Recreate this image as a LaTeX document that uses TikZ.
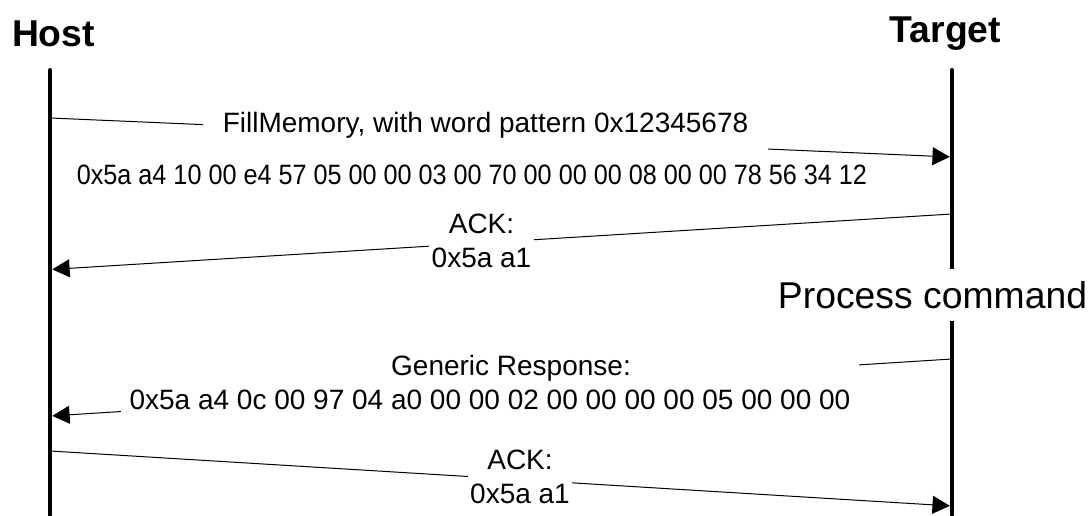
\documentclass[tikz,border=0pt]{standalone}
\usepackage{fontspec}
\setmainfont{Liberation Sans}
\usetikzlibrary{arrows.meta}

\begin{document}
\begin{tikzpicture}[x=0.75pt,y=-0.75pt,
  head/.style={font=\fontsize{28}{33}\selectfont\bfseries},
  life/.style={line width=3pt,line cap=round},
  msg/.style={line width=0.75pt,-{Triangle[length=13pt,width=13.5pt]},shorten >=1.5pt},
  lbl/.style={font=\fontsize{21}{25.5}\selectfont,align=center,fill=white,inner sep=2pt}]
\useasboundingbox (0,0) rectangle (1091,515);
\node[head] (host) at (53.5,34) {Host};
\node[head] (target) at (945.5,34) {Target};
\coordinate (hostTop) at (50.3,70);
\coordinate (hostEnd) at (50.3,515);
\coordinate (tgtTop) at (951.8,70);
\coordinate (tgtEnd) at (951.8,515);
\draw[life] (hostTop) -- (hostEnd);
\draw[life] (tgtTop) -- (tgtEnd);

\coordinate (h1) at (50.3,118);  \coordinate (t1) at (951.8,157);
\coordinate (t2) at (951.8,214); \coordinate (h2) at (50.3,269.5);
\coordinate (t3) at (951.8,359); \coordinate (h3) at (50.3,416);
\coordinate (h4) at (50.3,451);  \coordinate (t4) at (951.8,506);
\draw[msg] (h1) -- (t1);
\draw[msg] (t2) -- (h2);
\draw[msg] (t3) -- (h3);
\draw[msg] (h4) -- (t4);

\node[lbl,inner xsep=15pt,inner ysep=10pt] (fillmem) at (485.5,125.7) {FillMemory, with word pattern 0x12345678};
\node[lbl,fill=none] (cmdbytes) at (472,175) {\scalebox{0.9}[1]{0x5a a4 10 00 e4 57 05 00 00 03 00 70 00 00 00 08 00 00 78 56 34 12}};
\node[lbl] (ack1) at (481.5,240.5) {ACK:\\0x5a a1};
\node[font=\fontsize{28}{33}\selectfont,fill=white,minimum height=39pt,inner xsep=0pt] (proc) at (932.5,295) {Process command};
\node[lbl,inner xsep=6.5pt,inner ysep=3pt] (resp) at (490,382.5) {\hspace*{1.5em}Generic Response:\\0x5a a4 0c 00 97 04 a0 00 00 02 00 00 00 00 05 00 00 00};
\node[lbl] (ack2) at (520,476.5) {ACK:\\0x5a a1};
\end{tikzpicture}
\end{document}
